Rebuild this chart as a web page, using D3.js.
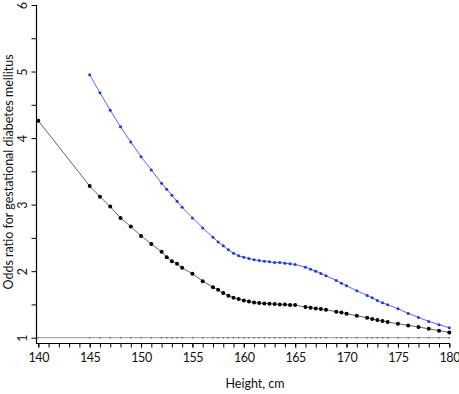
<!DOCTYPE html>
<html>
<head>
<meta charset="utf-8">
<script src="https://cdn.jsdelivr.net/npm/d3@7"></script>
<style>
  body { margin: 0; background: #fff; }
  svg text { font-family: Lato, "Open Sans", sans-serif; fill: #111; }
</style>
</head>
<body>
<svg class="chart" width="459" height="394"></svg>
<script>
// heights shared by both curves (cm)
var heights = [145, 146, 147, 148, 149, 150, 151, 152, 152.5, 153, 153.5, 154, 155, 156, 157, 157.5,
    158, 158.5, 159, 159.5, 160, 160.5, 161, 161.5, 162, 162.5, 163, 163.5, 164, 164.5, 165,
    166, 166.5, 167, 167.5, 168, 169, 169.5, 170, 171, 172, 172.5, 173, 173.5, 174,
    175, 176, 177, 178, 179, 180];

// black curve, starts with extra point at 140
var blackStart = { h: 140, v: 4.26 };
var blackValues = [3.28, 3.12, 2.97, 2.80, 2.67, 2.53, 2.41, 2.29, 2.21, 2.15, 2.11, 2.05, 1.96, 1.85, 1.76, 1.72,
    1.67, 1.63, 1.60, 1.58, 1.56, 1.545, 1.53, 1.52, 1.515, 1.51, 1.505, 1.50, 1.50, 1.49, 1.49,
    1.46, 1.45, 1.44, 1.43, 1.42, 1.39, 1.38, 1.36, 1.33, 1.30, 1.28, 1.265, 1.25, 1.235,
    1.21, 1.185, 1.16, 1.135, 1.105, 1.08];

// blue curve
var blueValues = [4.95, 4.68, 4.42, 4.17, 3.94, 3.72, 3.52, 3.32, 3.23, 3.14, 3.05, 2.96, 2.80, 2.65, 2.51, 2.44,
    2.38, 2.32, 2.27, 2.23, 2.21, 2.19, 2.17, 2.16, 2.15, 2.14, 2.13, 2.13, 2.12, 2.11, 2.10,
    2.06, 2.03, 2.00, 1.965, 1.93, 1.86, 1.82, 1.78, 1.705, 1.635, 1.60, 1.56, 1.525, 1.495,
    1.435, 1.365, 1.305, 1.245, 1.195, 1.15];

var refValue = 1;
var yTicks = [1, 2, 3, 4, 5, 6];
var yMinor = [1.5, 2.5, 3.5, 4.5, 5.5];
var xTicks = [140, 145, 150, 155, 160, 165, 170, 175, 180];

var x = d3.scaleLinear().domain([140, 180]).range([38.3, 449.3]);
var y = d3.scaleLinear().domain([1, 6]).range([337.7, 5]);

var svg = d3.select('.chart');
var axisY = 343.5, axisX = 36.5;

var blackData = [blackStart].concat(heights.map((h, i) => ({ h: h, v: blackValues[i] })));
var blueData = heights.map((h, i) => ({ h: h, v: blueValues[i] }));
var refData = [140].concat(heights).map(h => ({ h: h, v: refValue }));

var line = d3.line()
    .x(d => x(d.h))
    .y(d => y(d.v));

// reference line at OR = 1
svg.append('line')
    .attr('x1', x(140)).attr('x2', x(180))
    .attr('y1', y(refValue)).attr('y2', y(refValue))
    .attr('stroke', '#9a9a9a').attr('stroke-width', 1);
svg.append('g').selectAll('circle')
    .data(refData).enter().append('circle')
    .attr('cx', d => x(d.h)).attr('cy', d => y(d.v))
    .attr('r', 0.8).attr('fill', '#555');

// blue curve
svg.append('path').datum(blueData)
    .attr('d', line).attr('fill', 'none')
    .attr('stroke', '#5b63ff').attr('stroke-width', 1);
svg.append('g').selectAll('circle')
    .data(blueData).enter().append('circle')
    .attr('cx', d => x(d.h)).attr('cy', d => y(d.v))
    .attr('r', 1.5).attr('fill', '#2233ee');

// black curve
svg.append('path').datum(blackData)
    .attr('d', line).attr('fill', 'none')
    .attr('stroke', '#666').attr('stroke-width', 1);
svg.append('g').selectAll('circle')
    .data(blackData).enter().append('circle')
    .attr('cx', d => x(d.h)).attr('cy', d => y(d.v))
    .attr('r', 2).attr('fill', '#000');

// y axis
var yAxis = d3.axisLeft(y).tickValues(yTicks).tickFormat(d3.format('d')).tickSize(5).tickSizeOuter(0);
var gy = svg.append('g').attr('transform', 'translate(' + axisX + ',0)').call(yAxis);
gy.select('.domain').remove();
gy.selectAll('.tick text')
    .attr('font-size', 12.5)
    .attr('text-anchor', 'middle')
    .attr('x', null)
    .attr('dy', null)
    .attr('transform', 'translate(-10,0) rotate(-90)');
var gyMinor = svg.append('g').attr('transform', 'translate(' + axisX + ',0)')
    .call(d3.axisLeft(y).tickValues(yMinor).tickSize(5).tickSizeOuter(0).tickFormat(''));
gyMinor.select('.domain').remove();
svg.append('line')
    .attr('x1', axisX).attr('x2', axisX)
    .attr('y1', y(6)).attr('y2', axisY + 0.5)
    .attr('stroke', '#000').attr('stroke-width', 1.2);

// x axis
var xAxis = d3.axisBottom(x).tickValues(xTicks).tickFormat(d3.format('d')).tickSize(4).tickSizeOuter(0).tickPadding(6);
var gx = svg.append('g').attr('transform', 'translate(0,' + axisY + ')').call(xAxis);
gx.select('.domain').remove();
gx.selectAll('.tick text').attr('font-size', 12.5).attr('letter-spacing', -0.4);
var gxMinor = svg.append('g').attr('transform', 'translate(0,' + axisY + ')')
    .call(d3.axisBottom(x).tickValues(d3.range(140, 181, 1)).tickSize(4).tickSizeOuter(0).tickFormat(''));
gxMinor.select('.domain').remove();
svg.append('line')
    .attr('x1', axisX).attr('x2', x(180) + 0.5)
    .attr('y1', axisY).attr('y2', axisY)
    .attr('stroke', '#000').attr('stroke-width', 1.2);
svg.selectAll('.tick line').attr('stroke', '#000');

// axis titles
svg.append('text')
    .attr('x', 255).attr('y', 388)
    .attr('text-anchor', 'middle')
    .attr('font-size', 12.5)
    .text('Height, cm');

svg.append('text')
    .attr('transform', 'translate(13,' + 172 + ') rotate(-90)')
    .attr('text-anchor', 'middle')
    .attr('font-size', 12.5)
    .text('Odds ratio for gestational diabetes mellitus');
</script>
</body>
</html>
